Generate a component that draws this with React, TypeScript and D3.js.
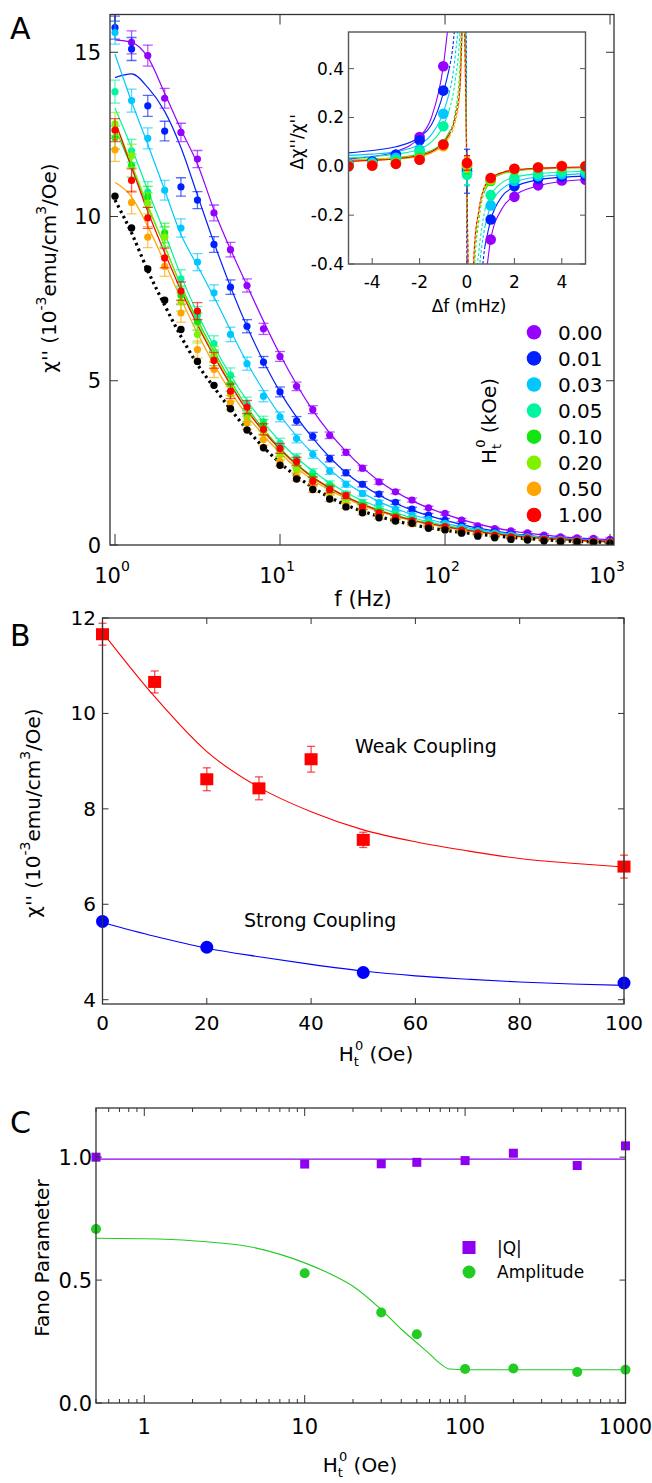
import React from "react";
import * as d3 from "d3";

const FONT = "'DejaVu Sans', sans-serif";

// ---------- panel A : chi'' vs f ----------
const freqHz = [1, 1.26, 1.58, 2, 2.51, 3.16, 3.98, 5.01, 6.31, 7.94, 10, 12.6, 15.8, 20, 25.1, 31.6, 39.8, 50.1, 63.1, 79.4, 100, 126, 158, 200, 251, 316, 398, 501, 631, 794, 1000];
const fitHz = [1, 1.26, 1.58, 2, 2.51, 3.16, 3.98, 6.31, 10, 15.8, 25.1, 39.8, 63.1, 100, 200, 398, 1000];
const errA = [0.35, 0.35, 0.32, 0.3, 0.28, 0.26, 0.24, 0.22, 0.2, 0.17, 0.15, 0.13, 0.12, 0.1, 0.09, 0.08, 0.07, 0.06, 0.06, 0.05, 0.05, 0.05, 0.04, 0.04, 0.04, 0.04, 0.04, 0.04, 0.04, 0.04, 0.04];

const chiH000 = [16.3, 15.3, 14.9, 13.6, 12.56, 11.75, 10.11, 8.99, 7.9, 6.58, 5.74, 4.83, 4.12, 3.34, 2.82, 2.34, 1.92, 1.62, 1.37, 1.13, 0.96, 0.76, 0.58, 0.5, 0.43, 0.37, 0.3, 0.25, 0.22, 0.2, 0.17];
const chiH001 = [15.75, 15.1, 13.37, 12.6, 10.9, 10.5, 9.15, 7.85, 6.66, 5.57, 4.66, 3.78, 3.31, 2.63, 2.2, 1.85, 1.55, 1.3, 1.09, 0.91, 0.76, 0.6, 0.48, 0.4, 0.33, 0.27, 0.22, 0.18, 0.05, 0.13, 0.1];
const chiH003 = [15.6, 13.53, 12.38, 10.8, 9.65, 8.61, 7.68, 6.41, 5.52, 4.53, 3.9, 3.24, 2.76, 2.25, 1.85, 1.57, 1.29, 1.09, 0.91, 0.78, 0.66, 0.54, 0.44, 0.36, 0.3, 0.25, 0.2, 0.17, 0.14, 0.12, 0.1];
const chiH005 = [13.8, 12.0, 10.74, 9.4, 8.1, 7.0, 6.13, 5.17, 4.3, 3.75, 3.1, 2.65, 2.2, 1.85, 1.55, 1.3, 1.1, 0.95, 0.8, 0.68, 0.58, 0.48, 0.4, 0.33, 0.27, 0.22, 0.18, 0.15, 0.13, 0.11, 0.09];
const chiH010 = [12.4, 11.55, 10.6, 9.5, 7.6, 6.8, 5.7, 4.9, 3.95, 3.65, 2.84, 2.48, 2.05, 1.75, 1.45, 1.2, 1.02, 0.88, 0.75, 0.63, 0.54, 0.45, 0.37, 0.3, 0.25, 0.21, 0.17, 0.14, 0.12, 0.1, 0.08];
const chiH020 = [12.82, 11.85, 10.4, 9.37, 7.4, 6.41, 5.8, 4.6, 3.85, 3.4, 2.75, 2.3, 1.9, 1.62, 1.35, 1.12, 0.95, 0.82, 0.7, 0.58, 0.5, 0.42, 0.34, 0.28, 0.23, 0.19, 0.16, 0.13, 0.11, 0.1, 0.08];
const chiH050 = [12.03, 10.43, 9.37, 8.48, 7.06, 5.95, 5.34, 4.33, 3.72, 3.21, 2.55, 2.08, 1.72, 1.42, 1.2, 1.0, 0.86, 0.74, 0.64, 0.55, 0.48, 0.4, 0.32, 0.26, 0.22, 0.18, 0.15, 0.02, 0.1, 0.09, 0.07];
const chiH100 = [12.63, 11.1, 9.96, 8.74, 7.73, 7.12, 5.62, 4.68, 4.2, 3.52, 2.94, 2.54, 1.95, 1.69, 1.5, 1.16, 0.98, 0.84, 0.74, 0.61, 0.56, 0.45, 0.37, 0.3, 0.25, 0.21, 0.18, 0.15, 0.13, 0.11, 0.09];
const chiRef = [10.62, 9.65, 8.4, 7.45, 6.56, 5.59, 4.86, 4.15, 3.5, 2.96, 2.43, 2.01, 1.69, 1.4, 1.16, 0.98, 0.83, 0.73, 0.66, 0.51, 0.46, 0.36, 0.27, 0.22, 0.17, 0.15, 0.12, 0.1, 0.1, 0.08, 0.05];

const fitH000 = [15.38, 15.3, 14.85, 13.75, 12.65, 11.6, 10.2, 7.9, 5.8, 4.1, 2.85, 1.95, 1.35, 0.94, 0.52, 0.3, 0.16];
const fitH001 = [14.23, 14.34, 13.93, 13.2, 12.1, 10.65, 9.2, 6.65, 4.66, 3.25, 2.2, 1.52, 1.06, 0.75, 0.42, 0.24, 0.12];
const fitH003 = [14.94, 13.5, 12.2, 10.8, 9.45, 8.5, 7.55, 5.55, 3.95, 2.78, 1.9, 1.32, 0.93, 0.66, 0.4, 0.23, 0.11];
const fitH005 = [13.3, 12.1, 10.8, 9.5, 8.2, 7.05, 6.05, 4.4, 3.15, 2.25, 1.6, 1.15, 0.83, 0.6, 0.37, 0.22, 0.1];
const fitH010 = [12.7, 11.5, 10.3, 9.1, 7.9, 6.85, 5.9, 4.2, 2.95, 2.08, 1.48, 1.06, 0.77, 0.56, 0.34, 0.2, 0.09];
const fitH020 = [12.9, 11.6, 10.35, 9.1, 7.85, 6.75, 5.8, 4.12, 2.9, 2.05, 1.46, 1.04, 0.75, 0.55, 0.33, 0.2, 0.09];
const fitH050 = [11.04, 10.6, 9.7, 8.6, 7.5, 6.45, 5.5, 3.95, 2.8, 1.98, 1.42, 1.02, 0.74, 0.54, 0.33, 0.19, 0.09];
const fitH100 = [12.9, 11.5, 10.15, 8.9, 7.75, 6.7, 5.75, 4.1, 2.92, 2.06, 1.47, 1.05, 0.76, 0.56, 0.34, 0.2, 0.1];
const fitRef = [10.5, 9.5, 8.35, 7.3, 6.35, 5.5, 4.8, 3.52, 2.5, 1.75, 1.22, 0.87, 0.62, 0.45, 0.28, 0.16, 0.08];

const fieldLabels = ["0.00", "0.01", "0.03", "0.05", "0.10", "0.20", "0.50", "1.00"];
const fieldColors = ["#9500FF", "#0020FF", "#00C8FF", "#00F5A0", "#12E612", "#80F200", "#FFA500", "#FF0000"];

// ---------- inset : delta chi'' / chi'' vs delta f ----------
const dfMHz = [-5, -4, -3, -2, -1, 0, 1, 2, 3, 4, 5];
const fitLeftMHz = [-5, -4, -3, -2, -1.5, -1, -0.75, -0.5, -0.3, -0.15];
const fitRightMHz = [0.15, 0.3, 0.5, 0.75, 1, 1.5, 2, 3, 4, 5];
const errAtZero = [0.03, 0.09, 0.05, 0.04, 0.03, 0.03, 0.03, 0.03];

const dH000 = [0.01, 0.02, 0.04, 0.12, 0.41, -0.01, -0.3, -0.125, -0.078, -0.058, -0.055];
const dH001 = [0.01, 0.02, 0.048, 0.107, 0.31, -0.02, -0.218, -0.082, -0.05, -0.041, -0.037];
const dH003 = [0.01, 0.015, 0.035, 0.068, 0.215, -0.03, -0.16, -0.06, -0.04, -0.032, -0.028];
const dH005 = [0.005, 0.01, 0.025, 0.06, 0.164, -0.035, -0.118, -0.048, -0.03, -0.022, -0.018];
const dH010 = [0.0, 0.005, 0.015, 0.035, 0.09, 0.0, -0.06, -0.015, -0.008, -0.004, -0.002];
const dH020 = [0.0, 0.004, 0.012, 0.03, 0.088, 0.005, -0.055, -0.012, -0.006, -0.003, -0.001];
const dH050 = [0.002, 0.004, 0.012, 0.03, 0.082, 0.01, -0.05, -0.01, -0.004, 0.002, 0.002];
const dH100 = [0.0, 0.003, 0.01, 0.027, 0.089, 0.014, -0.048, -0.01, -0.005, 0.0, 0.0];

const leftH000 = [0.03, 0.04, 0.06, 0.12, 0.2, 0.41, 0.62, 1.0, 1.5, 2];
const leftH001 = [0.055, 0.065, 0.08, 0.12, 0.17, 0.3, 0.4, 0.6, 1.0, 1.5];
const leftH003 = [0.045, 0.05, 0.06, 0.09, 0.13, 0.22, 0.3, 0.45, 0.7, 1.2];
const leftH005 = [0.035, 0.04, 0.05, 0.07, 0.1, 0.165, 0.23, 0.35, 0.55, 1.0];
const leftH010 = [0.025, 0.03, 0.035, 0.05, 0.065, 0.1, 0.14, 0.22, 0.4, 0.8];
const leftH020 = [0.025, 0.03, 0.035, 0.045, 0.06, 0.095, 0.13, 0.2, 0.35, 0.7];
const leftH050 = [0.02, 0.025, 0.03, 0.04, 0.055, 0.085, 0.12, 0.18, 0.3, 0.6];
const leftH100 = [0.02, 0.025, 0.03, 0.045, 0.06, 0.095, 0.13, 0.2, 0.32, 0.65];

const rightH000 = [-3, -1.5, -0.9, -0.5, -0.3, -0.17, -0.12, -0.08, -0.062, -0.055];
const rightH001 = [-2, -1.0, -0.6, -0.33, -0.22, -0.12, -0.085, -0.055, -0.045, -0.04];
const rightH003 = [-1.5, -0.8, -0.45, -0.25, -0.16, -0.09, -0.065, -0.043, -0.035, -0.03];
const rightH005 = [-1.2, -0.6, -0.35, -0.18, -0.12, -0.065, -0.045, -0.03, -0.024, -0.02];
const rightH010 = [-1.0, -0.45, -0.22, -0.1, -0.06, -0.03, -0.02, -0.012, -0.008, -0.006];
const rightH020 = [-0.9, -0.4, -0.2, -0.09, -0.055, -0.028, -0.018, -0.01, -0.007, -0.005];
const rightH050 = [-0.8, -0.35, -0.18, -0.08, -0.05, -0.025, -0.015, -0.008, -0.005, -0.003];
const rightH100 = [-0.8, -0.35, -0.18, -0.08, -0.05, -0.025, -0.015, -0.008, -0.005, -0.003];

const seriesA = [
  { pts: chiH000, fit: fitH000, ins: dH000, left: leftH000, right: rightH000 },
  { pts: chiH001, fit: fitH001, ins: dH001, left: leftH001, right: rightH001 },
  { pts: chiH003, fit: fitH003, ins: dH003, left: leftH003, right: rightH003 },
  { pts: chiH005, fit: fitH005, ins: dH005, left: leftH005, right: rightH005 },
  { pts: chiH010, fit: fitH010, ins: dH010, left: leftH010, right: rightH010 },
  { pts: chiH020, fit: fitH020, ins: dH020, left: leftH020, right: rightH020 },
  { pts: chiH050, fit: fitH050, ins: dH050, left: leftH050, right: rightH050 },
  { pts: chiH100, fit: fitH100, ins: dH100, left: leftH100, right: rightH100 },
].map((s, i) => ({ ...s, label: fieldLabels[i], color: fieldColors[i] }));

// ---------- panel B ----------
const weakH = [0, 10, 20, 30, 40, 50, 100];
const weakChi = [11.66, 10.66, 8.62, 8.43, 9.04, 7.35, 6.79];
const weakErr = [0.23, 0.23, 0.24, 0.24, 0.27, 0.16, 0.24];
const strongH = [0, 20, 50, 100];
const strongChi = [5.64, 5.1, 4.57, 4.35];
const fitBH = [0, 10, 20, 30, 40, 50, 60, 70, 80, 90, 100];
const weakFit = [11.7, 10.35, 9.2, 8.45, 7.94, 7.56, 7.31, 7.12, 6.96, 6.86, 6.78];
const strongFit = [5.62, 5.33, 5.08, 4.9, 4.74, 4.6, 4.5, 4.43, 4.37, 4.33, 4.3];

// ---------- panel C ----------
const fanoH = [0.5, 10, 30, 50, 100, 200, 500, 1000];
const fanoQ = [1.0, 0.972, 0.973, 0.979, 0.986, 1.016, 0.966, 1.046];
const fanoAmp = [0.708, 0.528, 0.368, 0.28, 0.138, 0.14, 0.126, 0.135];
const qFitH = [0.5, 1000];
const qFit = [0.992, 0.992];
const ampFitH = [0.5, 1, 2, 5, 10, 15, 20, 30, 40, 50, 60, 70, 80, 100, 1000];
const ampFit = [0.67, 0.668, 0.66, 0.63, 0.57, 0.52, 0.475, 0.38, 0.3, 0.245, 0.2, 0.16, 0.138, 0.135, 0.135];

const zip = (xs: number[], ys: number[]) => xs.map((x, i) => [x, ys[i]] as [number, number]);

// chi'' unit label, used on panels A and B
const ChiLabel = ({ x, y }: { x: number; y: number }) => (
  <text transform={`translate(${x},${y}) rotate(-90)`} fontSize={20} textAnchor="middle">
    χ'' (10<tspan dy={-10} fontSize={14}>-3</tspan>
    <tspan dy={10}>emu/cm</tspan>
    <tspan dy={-10} fontSize={14}>3</tspan>
    <tspan dy={10}>/Oe)</tspan>
  </text>
);

const HtLabel = ({ x, y, unit, rotate = false }: { x: number; y: number; unit: string; rotate?: boolean }) => (
  <text transform={rotate ? `translate(${x},${y}) rotate(-90)` : `translate(${x},${y})`} fontSize={20} textAnchor="middle">
    H<tspan dy={5} fontSize={13}>t</tspan>
    <tspan dy={-16} dx={-4} fontSize={13}>0</tspan>
    <tspan dy={11}>{" (" + unit + ")"}</tspan>
  </text>
);

export default function App() {
  const xA = d3.scaleLog().domain([0.9326, 1057]).range([110, 614]);
  const yA = d3.scaleLinear().domain([0, 16.15]).range([545, 14.5]);
  const xI = d3.scaleLinear().domain([-5, 5]).range([348.5, 585.5]);
  const yI = d3.scaleLinear().domain([-0.4, 0.55]).range([264, 32]);
  const xB = d3.scaleLinear().domain([0, 100]).range([102.5, 624]);
  const yB = d3.scaleLinear().domain([3.91, 12]).range([1004, 618]);
  const xC = d3.scaleLog().domain([0.5, 1000]).range([96, 625.5]);
  const yC = d3.scaleLinear().domain([0, 1.2]).range([1403, 1108]);

  const lineA = d3.line<[number, number]>().x(d => xA(d[0])).y(d => yA(d[1])).curve(d3.curveMonotoneX);
  const lineI = d3.line<[number, number]>().x(d => xI(d[0])).y(d => yI(d[1])).curve(d3.curveMonotoneX);
  const lineB = d3.line<[number, number]>().x(d => xB(d[0])).y(d => yB(d[1])).curve(d3.curveMonotoneX);
  const lineC = d3.line<[number, number]>().x(d => xC(d[0])).y(d => yC(d[1])).curve(d3.curveMonotoneX);

  const tickLen = 8;
  const axisStroke = "#333";

  return (
    <svg width={652} height={1483} style={{ position: "absolute", left: 0, top: 0, background: "#fff" }} fontFamily={FONT}>
      <defs>
        <clipPath id="clipA"><rect x={110} y={14.5} width={504} height={530.5} /></clipPath>
        <clipPath id="clipI"><rect x={348.5} y={32} width={237} height={232} /></clipPath>
      </defs>
      <rect width={652} height={1483} fill="#fff" />

      {/* ================= PANEL A ================= */}
      <text x={10} y={39} fontSize={30}>A</text>
      <g clipPath="url(#clipA)">
        {seriesA.map((s, i) => (
          <path key={"fa" + i} d={lineA(zip(fitHz, s.fit)) || ""} fill="none" stroke={s.color} strokeWidth={1.2} />
        ))}
        <path d={lineA(zip(fitHz, fitRef)) || ""} fill="none" stroke="#000" strokeWidth={3.2} strokeDasharray="2.5,3.5" />
        {seriesA.map((s, i) => (
          <g key={"pa" + i}>
            {s.pts.map((v, j) => {
              const x = xA(freqHz[j]);
              const e = errA[j];
              return (
                <g key={j} stroke={s.color} strokeOpacity={0.65} strokeWidth={1.3}>
                  <line x1={x} x2={x} y1={yA(v - e)} y2={yA(v + e)} />
                  <line x1={x - 5} x2={x + 5} y1={yA(v - e)} y2={yA(v - e)} />
                  <line x1={x - 5} x2={x + 5} y1={yA(v + e)} y2={yA(v + e)} />
                </g>
              );
            })}
            {s.pts.map((v, j) => (
              <circle key={"c" + j} cx={xA(freqHz[j])} cy={yA(v)} r={3.6} fill={s.color} />
            ))}
          </g>
        ))}
        {chiRef.map((v, j) => (
          <circle key={"k" + j} cx={xA(freqHz[j])} cy={yA(v)} r={3.7} fill="#000" />
        ))}
      </g>
      <rect x={110} y={14.5} width={504} height={530.5} fill="none" stroke={axisStroke} strokeWidth={1.3} />
      {[0, 5, 10, 15].map(t => (
        <g key={"ya" + t}>
          <line x1={110} x2={110 + tickLen} y1={yA(t)} y2={yA(t)} stroke={axisStroke} />
          {t > 0 && <line x1={614} x2={614 - tickLen} y1={yA(t)} y2={yA(t)} stroke={axisStroke} />}
          <text x={101} y={yA(t) + 7.5} fontSize={21} textAnchor="end">{t}</text>
        </g>
      ))}
      {[1, 10, 100, 1000].map((t, i) => (
        <g key={"xa" + t}>
          <line x1={xA(t)} x2={xA(t)} y1={545} y2={545 - 11} stroke={axisStroke} />
          <line x1={xA(t)} x2={xA(t)} y1={14.5} y2={14.5 + 10} stroke={axisStroke} />
          <text x={xA(t) - 3} y={583} fontSize={21} textAnchor="middle">
            10<tspan dy={-12} fontSize={14}>{String(i)}</tspan>
          </text>
        </g>
      ))}
      <text x={363} y={606} fontSize={21} textAnchor="middle">f (Hz)</text>
      <ChiLabel x={56} y={268} />

      {/* legend A */}
      {seriesA.map((s, i) => (
        <g key={"lg" + i}>
          <circle cx={534} cy={332.3 + i * 26.1} r={7.3} fill={s.color} />
          <text x={558} y={332.3 + i * 26.1 + 7.3} fontSize={20}>{s.label}</text>
        </g>
      ))}
      <HtLabel x={496} y={421} unit="kOe" rotate />

      {/* ================= INSET ================= */}
      <rect x={348.5} y={32} width={237} height={232} fill="#fff" />
      <g clipPath="url(#clipI)">
        {seriesA.map((s, i) => {
          const lp = zip(fitLeftMHz, s.left);
          const rp = zip(fitRightMHz, s.right);
          return (
            <g key={"fi" + i} fill="none" stroke={s.color} strokeWidth={1.1}>
              <path d={lineI(lp.slice(0, 7)) || ""} />
              <path d={lineI(lp.slice(6).concat(rp.slice(0, 4))) || ""} strokeDasharray="3,2" />
              <path d={lineI(rp.slice(3)) || ""} />
            </g>
          );
        })}
        {seriesA.map((s, i) => (
          <g key={"ip" + i}>
            <line x1={xI(0)} x2={xI(0)} y1={yI(s.ins[5] - errAtZero[i])} y2={yI(s.ins[5] + errAtZero[i])} stroke={s.color} strokeWidth={1} />
            {[s.ins[5] - errAtZero[i], s.ins[5] + errAtZero[i]].map((v, k) => (
              <line key={k} x1={xI(0) - 3} x2={xI(0) + 3} y1={yI(v)} y2={yI(v)} stroke={s.color} strokeWidth={1} />
            ))}
            {s.ins.map((v, j) => (
              <circle key={j} cx={xI(dfMHz[j])} cy={yI(v)} r={5.3} fill={s.color} />
            ))}
          </g>
        ))}
      </g>
      <rect x={348.5} y={32} width={237} height={232} fill="none" stroke="#555" strokeWidth={1.4} />
      {[-0.4, -0.2, 0, 0.2, 0.4].map(t => (
        <g key={"yi" + t}>
          <line x1={348.5} x2={354} y1={yI(t)} y2={yI(t)} stroke="#555" />
          <line x1={585.5} x2={580} y1={yI(t)} y2={yI(t)} stroke="#555" />
          <text x={344} y={yI(t) + 6} fontSize={17} textAnchor="end">{t.toFixed(1)}</text>
        </g>
      ))}
      {[-4, -2, 0, 2, 4].map(t => (
        <g key={"xi" + t}>
          <line x1={xI(t)} x2={xI(t)} y1={264} y2={258} stroke="#555" />
          <text x={xI(t)} y={288} fontSize={17} textAnchor="middle">{t}</text>
        </g>
      ))}
      <text x={469} y={312} fontSize={17} textAnchor="middle">Δf (mHz)</text>
      <text transform="translate(303,142) rotate(-90)" fontSize={17} textAnchor="middle">Δχ''/χ''</text>

      {/* ================= PANEL B ================= */}
      <text x={10} y={646} fontSize={30}>B</text>
      <path d={lineB(zip(fitBH, weakFit)) || ""} fill="none" stroke="#FF0000" strokeWidth={1.1} />
      <path d={lineB(zip(fitBH, strongFit)) || ""} fill="none" stroke="#0000FF" strokeWidth={1.1} />
      {weakChi.map((v, i) => {
        const x = xB(weakH[i]);
        const e = weakErr[i];
        return (
          <g key={"wb" + i}>
            <g stroke="#FF0000" strokeOpacity={0.7} strokeWidth={1.3}>
              <line x1={x} x2={x} y1={yB(v - e)} y2={yB(v + e)} />
              <line x1={x - 4} x2={x + 4} y1={yB(v - e)} y2={yB(v - e)} />
              <line x1={x - 4} x2={x + 4} y1={yB(v + e)} y2={yB(v + e)} />
            </g>
            <rect x={x - 6.5} y={yB(v) - 6} width={13} height={12} fill="#FF0000" />
          </g>
        );
      })}
      {strongChi.map((v, i) => (
        <circle key={"sb" + i} cx={xB(strongH[i])} cy={yB(v)} r={6.5} fill="#0000FF" />
      ))}
      <rect x={102.5} y={618} width={521.5} height={386} fill="none" stroke={axisStroke} strokeWidth={1.3} />
      {[4, 6, 8, 10, 12].map(t => (
        <g key={"yb" + t}>
          <line x1={102.5} x2={102.5 + 6} y1={yB(t)} y2={yB(t)} stroke={axisStroke} />
          <line x1={624} x2={624 - 6} y1={yB(t)} y2={yB(t)} stroke={axisStroke} />
          <text x={96} y={yB(t) + 7} fontSize={20} textAnchor="end">{t}</text>
        </g>
      ))}
      {[0, 20, 40, 60, 80, 100].map(t => (
        <g key={"xb" + t}>
          <line x1={xB(t)} x2={xB(t)} y1={1004} y2={1004 - 6} stroke={axisStroke} />
          <line x1={xB(t)} x2={xB(t)} y1={618} y2={618 + 6} stroke={axisStroke} />
          <text x={xB(t)} y={1030} fontSize={20} textAnchor="middle">{t}</text>
        </g>
      ))}
      <text x={355} y={753} fontSize={19}>Weak Coupling</text>
      <text x={244} y={927} fontSize={19}>Strong Coupling</text>
      <HtLabel x={376} y={1061} unit="Oe" />
      <ChiLabel x={40} y={813} />

      {/* ================= PANEL C ================= */}
      <text x={10} y={1133} fontSize={30}>C</text>
      <path d={lineC(zip(qFitH, qFit)) || ""} fill="none" stroke="#9000F0" strokeWidth={1.1} />
      <path d={lineC(zip(ampFitH, ampFit)) || ""} fill="none" stroke="#22CC22" strokeWidth={1.1} />
      {fanoQ.map((v, i) => (
        <rect key={"q" + i} x={xC(fanoH[i]) - 4.5} y={yC(v) - 4.5} width={9} height={9} fill="#9000F0" />
      ))}
      {fanoAmp.map((v, i) => (
        <circle key={"a" + i} cx={xC(fanoH[i])} cy={yC(v)} r={5} fill="#22CC22" />
      ))}
      <rect x={96} y={1108} width={529.5} height={295} fill="none" stroke={axisStroke} strokeWidth={1.3} />
      {[0, 0.5, 1.0].map(t => (
        <g key={"yc" + t}>
          <line x1={96} x2={96 + 6} y1={yC(t)} y2={yC(t)} stroke={axisStroke} />
          <line x1={625.5} x2={625.5 - 6} y1={yC(t)} y2={yC(t)} stroke={axisStroke} />
          <text x={92} y={yC(t) + 7.5} fontSize={21} textAnchor="end">{t.toFixed(1)}</text>
        </g>
      ))}
      {xC.ticks().map((t, i) => {
        const major = [1, 10, 100, 1000].includes(t);
        const len = major ? 8 : 4;
        return (
          <g key={"xc" + i}>
            <line x1={xC(t)} x2={xC(t)} y1={1403} y2={1403 - len} stroke={axisStroke} />
            <line x1={xC(t)} x2={xC(t)} y1={1108} y2={1108 + len} stroke={axisStroke} />
          </g>
        );
      })}
      {[1, 10, 100, 1000].map(t => (
        <text key={"lc" + t} x={xC(t)} y={1434} fontSize={21} textAnchor="middle">{t}</text>
      ))}
      <HtLabel x={360} y={1472} unit="Oe" />
      <text transform="translate(49,1258) rotate(-90)" fontSize={20} textAnchor="middle">Fano Parameter</text>
      <rect x={462.5} y={1241} width={13} height={13} fill="#9000F0" />
      <circle cx={469} cy={1272} r={6.5} fill="#22CC22" />
      <text x={497} y={1254} fontSize={17}>|Q|</text>
      <text x={497} y={1278} fontSize={17}>Amplitude</text>
    </svg>
  );
}
